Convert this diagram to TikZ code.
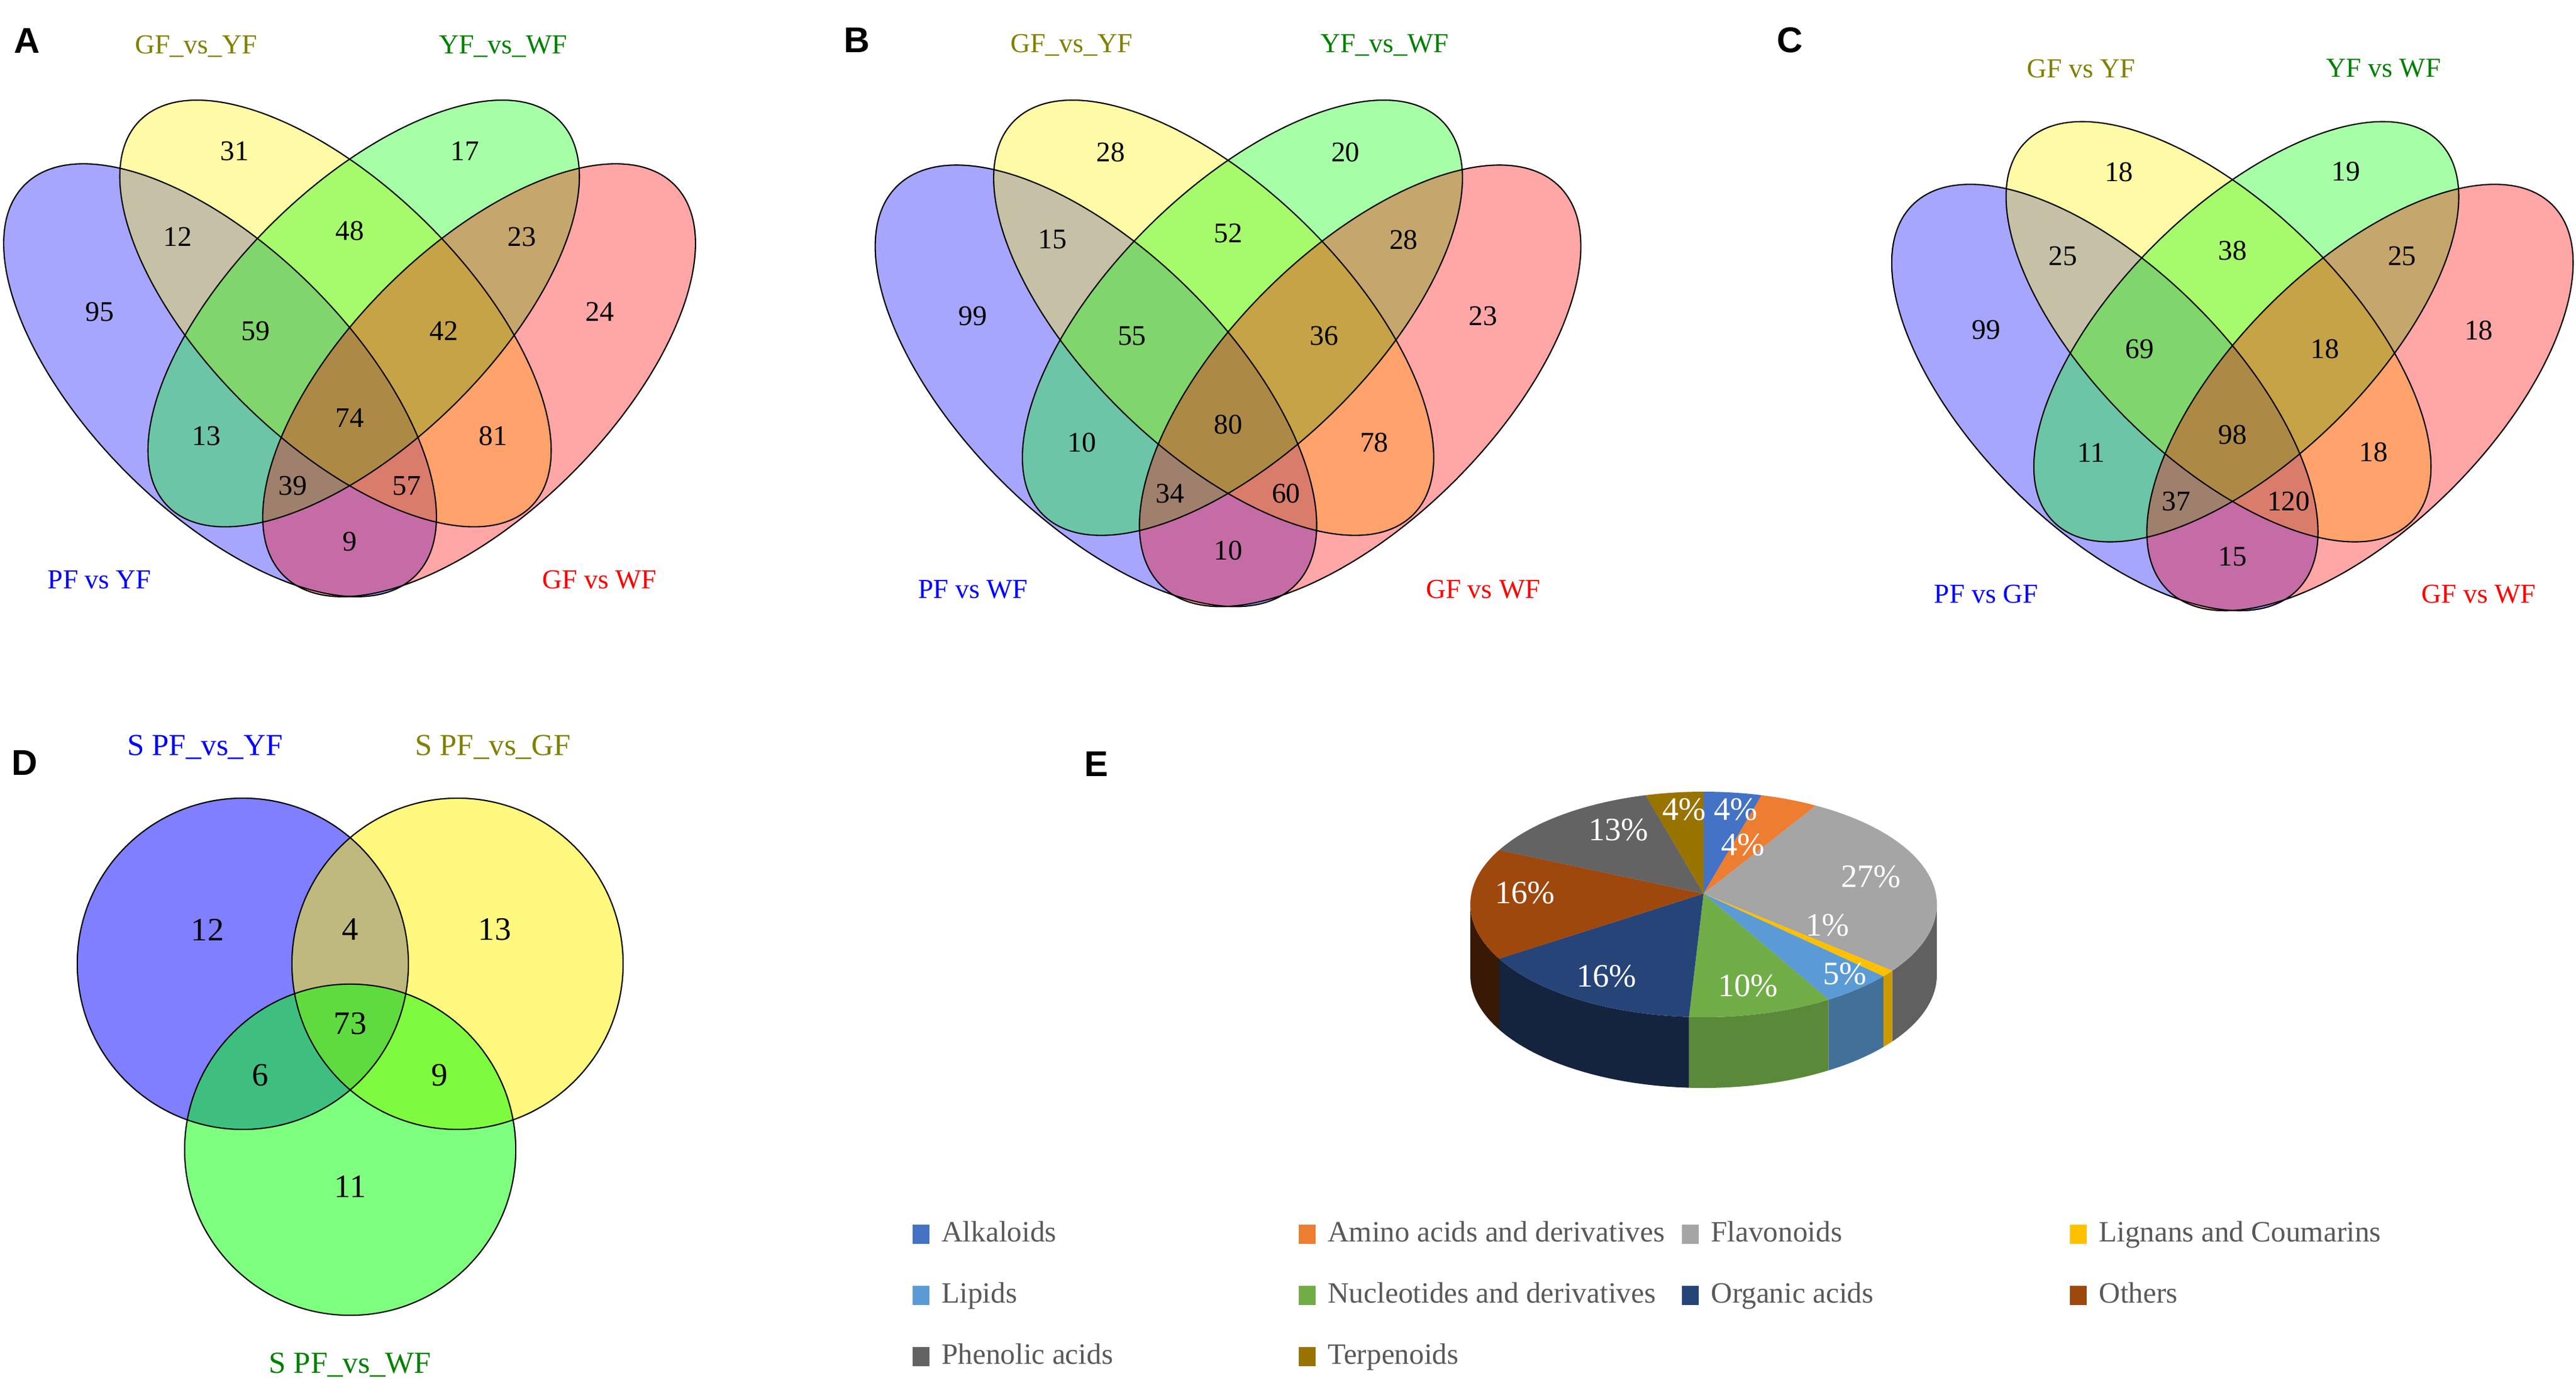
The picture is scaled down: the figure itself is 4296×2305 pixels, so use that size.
\documentclass[tikz,border=0pt]{standalone}
\usepackage{fontspec}
\setmainfont{Liberation Serif}
\newfontfamily\panelfont{Liberation Sans}
\usetikzlibrary{positioning}

\definecolor{oliveset}{RGB}{128,128,0}
\definecolor{greenset}{RGB}{0,128,0}
\definecolor{keygray}{HTML}{595959}
\definecolor{alkcol}{HTML}{4472C4}
\definecolor{amicol}{HTML}{ED7D31}
\definecolor{flacol}{HTML}{A5A5A5}
\definecolor{ligcol}{HTML}{FFC000}
\definecolor{lipcol}{HTML}{5B9BD5}
\definecolor{nuccol}{HTML}{70AD47}
\definecolor{orgcol}{HTML}{264478}
\definecolor{othcol}{HTML}{9E480E}
\definecolor{phecol}{HTML}{636363}
\definecolor{tercol}{HTML}{997300}

% four tilted ellipses, centred on the crossing axis
\newcommand{\fourellipses}{%
  \foreach \cx/\cy/\ang/\ra/\rb/\col in {-216/-116/135/4.605/2.19/blue,-23.5/-4.7/135.5/4.58/2.14/yellow,23.5/-4.7/44.5/4.58/2.14/green,216/-116/45/4.605/2.19/red}
    \fill[venn,\col,rotate around={\ang:(\cx,\cy)}] (\cx,\cy) ellipse [x radius=\ra cm,y radius=\rb cm];
  \foreach \cx/\cy/\ang/\ra/\rb in {-216/-116/135/4.605/2.19,-23.5/-4.7/135.5/4.58/2.14,23.5/-4.7/44.5/4.58/2.14,216/-116/45/4.605/2.19}
    \draw[rim,rotate around={\ang:(\cx,\cy)}] (\cx,\cy) ellipse [x radius=\ra cm,y radius=\rb cm];
}
% spots for the region counts and the set labels
\newcommand{\fourspots}[1]{%
  \foreach \sx/\sy [count=\i] in {-192/266,192/266,-287/123,0/133,287/123,-417/-2,-157/-34,157/-34,417/-2,0/-179,-239/-209,239/-209,-95/-292,95/-292,0/-385}
    \coordinate (#1-s\i) at (\sx,\sy);
  \coordinate (#1-tl) at (-256,441);
  \coordinate (#1-tr) at (256,441);
  \coordinate (#1-bl) at (-417,-449);
  \coordinate (#1-br) at (417,-449);
}

\begin{document}
\begin{tikzpicture}[x=0.01cm,y=0.01cm]
\tikzstyle{venn}=[fill opacity=0.35]
\tikzstyle{dvenn}=[fill opacity=0.5]
\tikzstyle{rim}=[draw=black,line width=0.6pt]
\tikzstyle{num}=[font=\fontsize{13.5}{16}\selectfont,inner sep=0pt]
\tikzstyle{bignum}=[font=\fontsize{15.5}{18}\selectfont,inner sep=0pt]
\tikzstyle{setlabel}=[font=\fontsize{13}{15}\selectfont,inner sep=0pt]
\tikzstyle{dlabel}=[font=\fontsize{14.5}{17}\selectfont,inner sep=0pt]
\tikzstyle{panel}=[font=\panelfont\bfseries\fontsize{17}{20}\selectfont,inner sep=0pt]
\tikzstyle{pct}=[text=white,font=\fontsize{15.5}{18}\selectfont,inner sep=0pt]
\tikzstyle{keybox}=[minimum width=0.28cm,minimum height=0.32cm,inner sep=0pt]
\tikzstyle{keytext}=[text=keygray,font=\fontsize{14}{16}\selectfont,inner sep=0pt,text height=10pt,text depth=3pt]

\fill[white] (0,0) rectangle (4296,-2305);
\useasboundingbox (0,0) rectangle (4296,-2305);

% A
\begin{scope}[shift={(583,-518)}]
  \fourellipses
  \fourspots{A}
\end{scope}
\foreach \v [count=\i] in {31,17,12,48,23,95,59,42,24,74,13,81,39,57,9}
  \node[num] (A\i) at (A-s\i) {\v};
\node[setlabel,text=oliveset] (A-gy) at (A-tl) {GF\_vs\_YF};
\node[setlabel,text=greenset] (A-yw) at (A-tr) {YF\_vs\_WF};
\node[setlabel,text=blue] (A-py) at (A-bl) {PF vs YF};
\node[setlabel,text=red] (A-gw) at (A-br) {GF vs WF};
\node[panel] (A) at (45,-68) {A};

% B
\begin{scope}[shift={(2048,-525)},scale=1.02]
  \fourellipses
  \fourspots{B}
\end{scope}
\foreach \v [count=\i] in {28,20,15,52,28,99,55,36,23,80,10,78,34,60,10}
  \node[num] (B\i) at (B-s\i) {\v};
\node[setlabel,text=oliveset] (B-gy) at (B-tl) {GF\_vs\_YF};
\node[setlabel,text=greenset] (B-yw) at (B-tr) {YF\_vs\_WF};
\node[setlabel,text=blue] (B-pw) at (B-bl) {PF vs WF};
\node[setlabel,text=red] (B-gw) at (B-br) {GF vs WF};
\node[panel] (B) at (1429,-67) {B};

% C
\begin{scope}[shift={(3723,-548.5)},scale=0.985]
  \fourellipses
  \fourspots{C}
\end{scope}
\foreach \v [count=\i] in {18,19,25,38,25,99,69,18,18,98,11,18,37,120,15}
  \node[num] (C\i) at (C-s\i) {\v};
\node[setlabel,text=oliveset] (C-gy) at (C-tl) {GF vs YF};
\node[setlabel,text=greenset] (C-yw) at (C-tr) {YF vs WF};
\node[setlabel,text=blue] (C-pg) at (C-bl) {PF vs GF};
\node[setlabel,text=red] (C-gw) at (C-br) {GF vs WF};
\node[panel] (C) at (2985,-67) {C};

% D
\fill[dvenn,blue] (405,-1607) circle [radius=2.76cm];
\fill[dvenn,yellow] (763,-1607) circle [radius=2.76cm];
\fill[dvenn,green] (584,-1917) circle [radius=2.76cm];
\draw[rim] (405,-1607) circle [radius=2.76cm];
\draw[rim] (763,-1607) circle [radius=2.76cm];
\draw[rim] (584,-1917) circle [radius=2.76cm];
\foreach \x/\y/\v [count=\i] in {346/1550/12,584/1550/4,825/1550/13,584/1707/73,434/1793/6,733/1793/9,584/1978/11}
  \node[bignum] (D\i) at (\x,-\y) {\v};
\node[dlabel,text=blue] (D-py) at (342,-1246) {S PF\_vs\_YF};
\node[dlabel,text=oliveset] (D-pg) at (822,-1246) {S PF\_vs\_GF};
\node[dlabel,text=greenset] (D-pw) at (584,-2276) {S PF\_vs\_WF};
\node[panel] (D) at (41,-1272) {D};

% E
\foreach \ta/\tb/\col/\shd in {0/-36/flacol/58,-36/-39.6/ligcol/80,-39.6/-57.6/lipcol/72,-57.6/-93.6/nuccol/80,-93.6/-151.2/orgcol/52,-151.2/-180/othcol/35}
  \fill[\col!\shd!black] ([shift={(\ta:389 and 188)}]2841,-1508) arc[start angle=\ta,end angle=\tb,x radius=3.89cm,y radius=1.88cm]
    -- ++(0,-118) arc[start angle=\tb,end angle=\ta,x radius=3.89cm,y radius=1.88cm] -- cycle;
\foreach \ta/\tb/\col in {90/75.6/alkcol,75.6/61.2/amicol,61.2/-36/flacol,-36/-39.6/ligcol,-39.6/-57.6/lipcol,-57.6/-93.6/nuccol,-93.6/-151.2/orgcol,-151.2/-208.8/othcol,-208.8/-255.6/phecol,-255.6/-270/tercol}
  \fill[\col] (2841,-1490) -- ([shift={(\ta:389 and 188)}]2841,-1508) arc[start angle=\ta,end angle=\tb,x radius=3.89cm,y radius=1.88cm] -- cycle;
\node[pct] (E-ter) at (2809,-1350) {4\%};
\node[pct] (E-alk) at (2895,-1350) {4\%};
\node[pct] (E-ami) at (2907,-1409) {4\%};
\node[pct] (E-fla) at (3120,-1462) {27\%};
\node[pct] (E-lig) at (3048,-1543) {1\%};
\node[pct] (E-lip) at (3077,-1624) {5\%};
\node[pct] (E-nuc) at (2915,-1644) {10\%};
\node[pct] (E-org) at (2679,-1628) {16\%};
\node[pct] (E-oth) at (2543,-1489) {16\%};
\node[pct] (E-phe) at (2699,-1384) {13\%};
\node[panel] (E) at (1828,-1274) {E};

% legend
\foreach \col/\txt/\x/\y [count=\i] in {alkcol/Alkaloids/1536/2058,amicol/Amino acids and derivatives/2180/2058,flacol/Flavonoids/2819/2058,ligcol/Lignans and Coumarins/3466/2058,lipcol/Lipids/1536/2160,nuccol/Nucleotides and derivatives/2180/2160,orgcol/Organic acids/2819/2160,othcol/Others/3466/2160,phecol/Phenolic acids/1536/2262,tercol/Terpenoids/2180/2262}
{
  \node[keybox,fill=\col] (k\i) at (\x,-\y) {};
  \node[keytext,right=0.19cm of k\i] (t\i) {\txt};
}
\end{tikzpicture}
\end{document}
